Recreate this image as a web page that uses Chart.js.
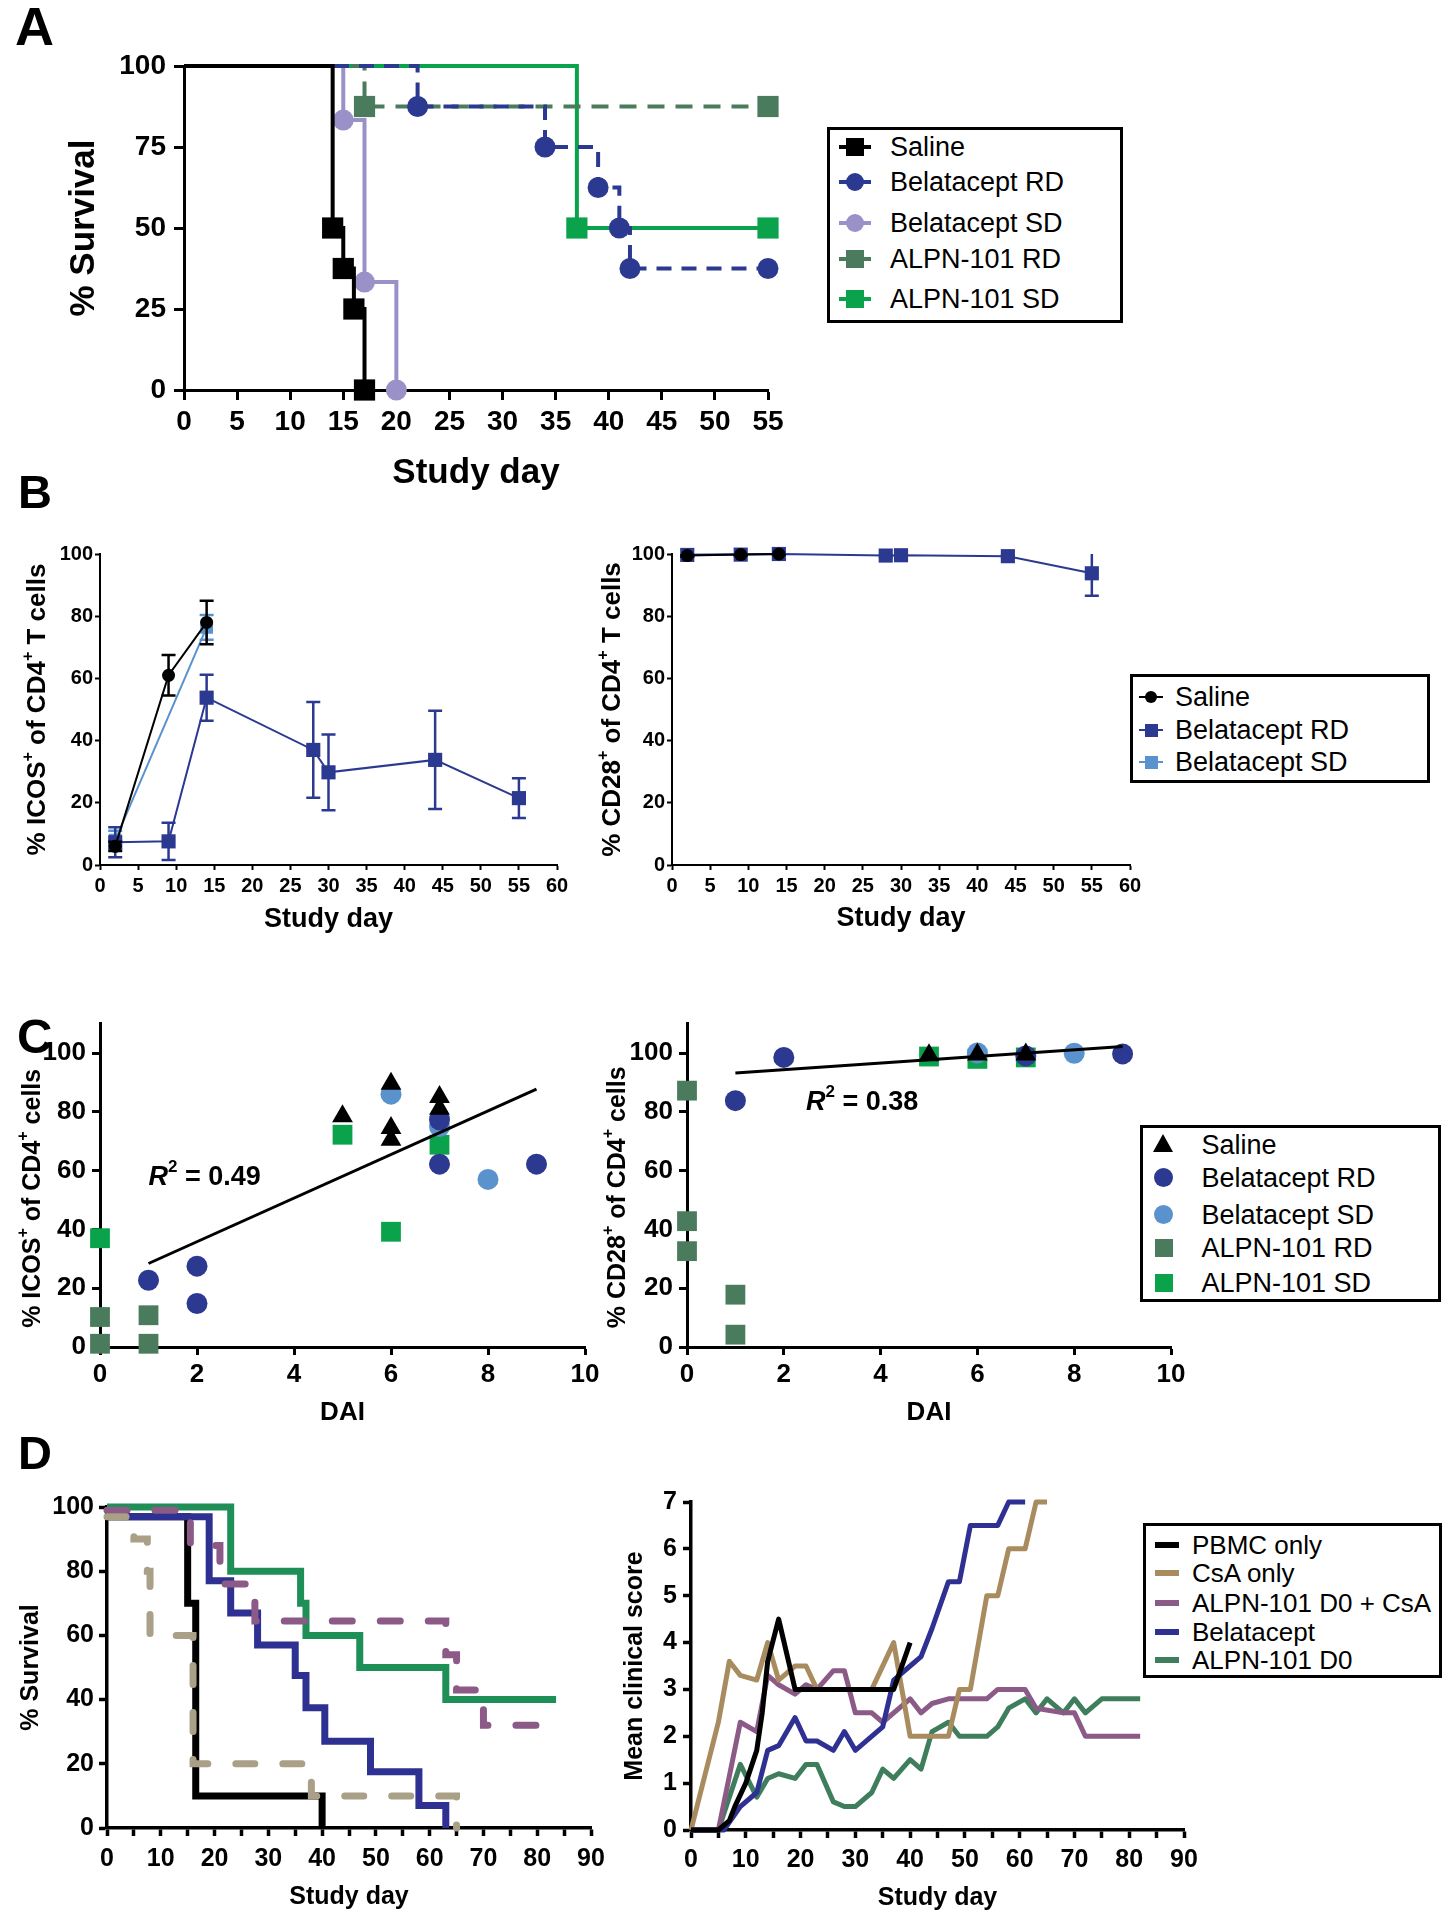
<!DOCTYPE html>
<html><head><meta charset="utf-8">
<script src="https://cdn.jsdelivr.net/npm/chart.js@4.4.1/dist/chart.umd.min.js"></script>
<style>
html,body{margin:0;padding:0;background:#fff}
#page{position:relative;width:1451px;height:1920px;overflow:hidden;background:#fff;font-family:'Liberation Sans',Arial,Helvetica,sans-serif;color:#000}
canvas{position:absolute}
.letter{position:absolute;font-weight:bold;line-height:1;z-index:6}
.lg{position:absolute;box-sizing:border-box;border:3px solid #000;background:#fff;z-index:5}
.tx{position:absolute;transform:translateY(-50%);line-height:1;white-space:nowrap}
.mk{position:absolute;box-sizing:border-box}
</style></head>
<body><div id="page">
<div class="letter" style="left:15px;top:-1px;font-size:54px">A</div>
<div class="letter" style="left:18px;top:468px;font-size:47px">B</div>
<div class="letter" style="left:17px;top:1012px;font-size:49px">C</div>
<div class="letter" style="left:18px;top:1429px;font-size:47px">D</div>
</div>
<script>
const FF = "'Liberation Sans', Arial, Helvetica, sans-serif";
Chart.defaults.font.family = FF;
Chart.defaults.color = '#000';

// ---------------- DATA ----------------
// Panel A: Kaplan-Meier survival
const seriesA = ['Saline', 'Belatacept RD', 'Belatacept SD', 'ALPN-101 RD', 'ALPN-101 SD'];
const aDaysSaline = [0, 14, 15, 16, 17];
const aSurvSaline = [100, 50, 37.5, 25, 0];
const aDaysBelRD = [0, 22, 34, 39, 41, 42, 55];
const aSurvBelRD = [100, 87.5, 75, 62.5, 50, 37.5, 37.5];
const aDaysBelSD = [0, 15, 17, 20];
const aSurvBelSD = [100, 83.3, 33.3, 0];
const aDaysAlpRD = [0, 17, 55];
const aSurvAlpRD = [100, 87.5, 87.5];
const aDaysAlpSD = [0, 37, 55];
const aSurvAlpSD = [100, 50, 50];
const aXTicks = [0, 5, 10, 15, 20, 25, 30, 35, 40, 45, 50, 55];
const aYTicks = [0, 25, 50, 75, 100];

// Panel B: % ICOS+ and % CD28+ over time (mean, error)
const seriesB = ['Saline', 'Belatacept RD', 'Belatacept SD'];
const bDaysSaline = [2, 9, 14];
const bDaysBelRD = [2, 9, 14, 28, 30, 44, 55];
const bDaysBelSD = [2, 14];
const icosSaline = [6, 61, 78];
const icosSalineErr = [1.5, 6.5, 7];
const icosBelRD = [7.3, 7.6, 53.8, 37, 29.8, 33.8, 21.5];
const icosBelRDErr = [4.8, 6, 7.4, 15.4, 12.2, 15.8, 6.4];
const icosBelSD = [8, 76.4];
const icosBelSDErr = [3, 4];
const cd28Saline = [99.5, 99.8, 100];
const cd28SalineErr = [0.4, 0.3, 0.2];
const cd28BelRD = [99.7, 99.8, 100, 99.5, 99.6, 99.3, 93.8];
const cd28BelRDErr = [0.4, 0.3, 0.2, 0.4, 0.4, 0.5, 7.2];
const cd28BelSD = [99.8, 100];
const cd28BelSDErr = [0.3, 0.2];
const bXTicks = [0, 5, 10, 15, 20, 25, 30, 35, 40, 45, 50, 55, 60];
const bYTicks = [0, 20, 40, 60, 80, 100];

// Panel C: correlation with DAI
const cIcosSalineX = [5, 6, 6, 6, 7, 7];
const cIcosSalineY = [78.5, 89.5, 74.5, 70.5, 85, 81];
const cIcosBelRDX = [1, 2, 2, 7, 7, 9];
const cIcosBelRDY = [22.7, 27.5, 14.8, 77.3, 62.2, 62.2];
const cIcosBelSDX = [6, 7, 8];
const cIcosBelSDY = [86, 75, 57];
const cIcosAlpRDX = [0, 0, 1, 1];
const cIcosAlpRDY = [10.2, 1.1, 10.8, 1.1];
const cIcosAlpSDX = [0, 5, 6, 7];
const cIcosAlpSDY = [37, 72.2, 39.2, 68.8];
const cIcosFitX = [1, 9];
const cIcosFitY = [28.4, 87.7];
const cCd28SalineX = [5, 6, 7];
const cCd28SalineY = [99.2, 99.5, 99.5];
const cCd28BelRDX = [1, 2, 7, 9];
const cCd28BelRDY = [83.8, 98.5, 99, 99.7];
const cCd28BelSDX = [6, 8];
const cCd28BelSDY = [100, 99.9];
const cCd28AlpRDX = [0, 0, 0, 1, 1];
const cCd28AlpRDY = [87.2, 42.8, 32.6, 17.8, 4.2];
const cCd28AlpSDX = [5, 6, 7];
const cCd28AlpSDY = [98.8, 98, 98.5];
const cCd28FitX = [1, 9];
const cCd28FitY = [93.2, 102.2];
const cXTicks = [0, 2, 4, 6, 8, 10];
const cYTicks = [0, 20, 40, 60, 80, 100];

// Panel D: survival and mean clinical score
const seriesD = ['PBMC only', 'CsA only', 'ALPN-101 D0 + CsA', 'Belatacept', 'ALPN-101 D0'];
const dsPbmcX = [0, 15, 16.5, 40];
const dsPbmcY = [97, 70, 10, 0];
const dsCsaX = [0, 5, 7.5, 8, 16, 38, 65];
const dsCsaY = [97, 90, 80, 60, 20, 10, 0];
const dsMauveX = [0, 15.5, 21, 27.5, 63, 65, 70, 83.5];
const dsMauveY = [99, 88, 76, 64.5, 54, 43, 32, 32];
const dsBelaX = [0, 19, 23, 28, 35, 37, 40.5, 49, 58, 63];
const dsBelaY = [97, 77, 67, 57, 47.5, 37.5, 27, 17.5, 7, 0];
const dsGreenX = [0, 23, 36, 37, 47, 63, 83.5];
const dsGreenY = [100, 80, 70, 60, 50, 40, 40];
const dcPbmcX = [0, 5, 7, 8, 10, 12, 13, 14, 16, 19, 37, 40];
const dcPbmcY = [0, 0, 0.2, 0.5, 1.0, 1.7, 2.5, 3.6, 4.5, 3, 3, 4];
const dcCsaX = [0, 5, 7, 9, 12, 14, 16, 19, 21, 23, 33, 37, 40, 47, 49, 51, 54, 56, 58, 61, 63, 65];
const dcCsaY = [0, 2.3, 3.6, 3.3, 3.2, 4, 3.2, 3.5, 3.5, 3, 3, 4, 2, 2, 3, 3, 5, 5, 6, 6, 7, 7];
const dcMauveX = [0, 5, 9, 12, 14, 16, 19, 21, 23, 26, 28, 30, 33, 35, 40, 42, 44, 47, 54, 56, 61, 63, 68, 70, 72, 82];
const dcMauveY = [0, 0, 2.3, 2.1, 3.3, 3.1, 2.9, 3.1, 3, 3.4, 3.4, 2.5, 2.5, 2.3, 2.8, 2.5, 2.7, 2.8, 2.8, 3, 3, 2.6, 2.5, 2.5, 2, 2];
const dcBelaX = [0, 6, 9, 12, 14, 16, 19, 21, 23, 26, 28, 30, 35, 37, 40, 42, 44, 47, 49, 51, 56, 58, 61];
const dcBelaY = [0, 0, 0.5, 0.8, 1.7, 1.8, 2.4, 1.9, 1.9, 1.7, 2.1, 1.7, 2.2, 3.2, 3.5, 3.7, 4.3, 5.3, 5.3, 6.5, 6.5, 7, 7];
const dcGreenX = [0, 5, 9, 12, 14, 16, 19, 21, 23, 26, 28, 30, 33, 35, 37, 40, 42, 44, 47, 49, 54, 56, 58, 61, 63, 65, 68, 70, 72, 75, 82];
const dcGreenY = [0, 0, 1.4, 0.7, 1.1, 1.2, 1.1, 1.4, 1.4, 0.6, 0.5, 0.5, 0.8, 1.3, 1.1, 1.5, 1.3, 2.1, 2.3, 2, 2, 2.2, 2.6, 2.8, 2.5, 2.8, 2.5, 2.8, 2.5, 2.8, 2.8];
const dXTicks = [0, 5, 10, 15, 20, 25, 30, 35, 40, 45, 50, 55, 60, 65, 70, 75, 80, 85, 90];
const dXLabels = ['0', '', '10', '', '20', '', '30', '', '40', '', '50', '', '60', '', '70', '', '80', '', '90'];
const dLYTicks = [0, 20, 40, 60, 80, 100];
const dRYTicks = [0, 1, 2, 3, 4, 5, 6, 7];

// ---------------- STYLE ----------------
const NAVY = '#2b3990', LAV = '#9b91c9', DKG = '#4a7b5c', GRN = '#0ba24c', LBLUE = '#5a92cd';
const D_TAN_L = '#aaa087', D_TAN_R = '#a88c5f', D_MAUVE = '#8c5a86', D_BLUE = '#2e3192', D_GRN_L = '#1f8f58', D_GRN_R = '#3f7e5c';
const page = document.getElementById('page');

function pts(xs, ys) { return xs.map((x, i) => ({ x: x, y: ys[i] })); }

const errorBarPlugin = {
  id: 'errbars',
  beforeDatasetDraw(chart, args) {
    const ds = chart.data.datasets[args.index];
    if (!ds.errors) return;
    const ctx = chart.ctx, ys = chart.scales.y, a = chart.chartArea;
    ctx.save();
    ctx.beginPath();
    ctx.rect(a.left - 30, a.top, a.right - a.left + 60, a.bottom - a.top + 30);
    ctx.clip();
    ctx.strokeStyle = ds.borderColor;
    ctx.lineWidth = ds.errW || 2.5;
    const cap = ds.errCap || 7;
    args.meta.data.forEach((pt, i) => {
      const e = ds.errors[i];
      if (!e) return;
      const v = ds.data[i].y;
      const yt = ys.getPixelForValue(v + e), yb = ys.getPixelForValue(v - e);
      ctx.beginPath();
      ctx.moveTo(pt.x, yt); ctx.lineTo(pt.x, yb);
      ctx.moveTo(pt.x - cap, yt); ctx.lineTo(pt.x + cap, yt);
      ctx.moveTo(pt.x - cap, yb); ctx.lineTo(pt.x + cap, yb);
      ctx.stroke();
    });
    ctx.restore();
  }
};

function drawRich(ctx, segs, x, y, rot, size, align) {
  ctx.save();
  ctx.translate(x, y);
  ctx.rotate(rot);
  ctx.fillStyle = '#000';
  ctx.textBaseline = 'middle';
  ctx.textAlign = 'left';
  const parts = segs.map(s => {
    const fs = s.sup ? Math.round(size * 0.62) : size;
    const font = (s.it ? 'italic ' : '') + 'bold ' + fs + 'px ' + FF;
    ctx.font = font;
    return { s: s, font: font, w: ctx.measureText(s.t).width };
  });
  const total = parts.reduce((acc, p) => acc + p.w, 0);
  let cx = align === 'left' ? 0 : -total / 2;
  parts.forEach(p => {
    ctx.font = p.font;
    ctx.fillText(p.s.t, cx, p.s.sup ? -size * 0.36 : 0);
    cx += p.w;
  });
  ctx.restore();
}

function textPlugin(items) {
  return {
    id: 'richtext',
    afterDraw(chart) {
      const ctx = chart.ctx, a = chart.chartArea;
      items.forEach(it => {
        let x, y, rot = 0, align = 'center';
        if (it.kind === 'x') { x = (a.left + a.right) / 2; y = a.bottom + it.offset; }
        else if (it.kind === 'y') { x = a.left + it.offset; y = (a.top + a.bottom) / 2 + (it.shift || 0); rot = -Math.PI / 2; }
        else { x = chart.scales.x.getPixelForValue(it.x); y = chart.scales.y.getPixelForValue(it.y); align = 'left'; }
        drawRich(ctx, it.segs, x, y, rot, it.size, align);
      });
    }
  };
}

function axis(o, dir, size) {
  return {
    type: 'linear', position: dir === 'x' ? 'bottom' : 'left',
    min: o.min, max: o.max,
    afterFit(s) { if (dir === 'x') s.height = size; else s.width = size; },
    afterBuildTicks(s) { s.ticks = o.ticks.map(v => ({ value: v })); },
    ticks: {
      autoSkip: false, maxRotation: 0, minRotation: 0, color: '#000', padding: o.pad,
      font: { family: FF, size: o.fs, weight: 'bold' },
      callback: (v, i) => (o.labels ? o.labels[i] : String(v))
    },
    grid: { display: true, drawOnChartArea: false, drawTicks: true, tickLength: o.tl, tickWidth: o.lw, tickColor: '#000' },
    border: { display: true, color: '#000', width: o.lw }
  };
}

function makeChart(rect, area, cfg) {
  const cv = document.createElement('canvas');
  cv.width = rect.w; cv.height = rect.h;
  cv.style.left = rect.x + 'px'; cv.style.top = rect.y + 'px';
  cv.style.width = rect.w + 'px'; cv.style.height = rect.h + 'px';
  page.appendChild(cv);
  const a = { left: area.left - rect.x, top: area.top - rect.y, right: area.right - rect.x, bottom: area.bottom - rect.y };
  return new Chart(cv, {
    type: cfg.type || 'line',
    data: { datasets: cfg.datasets },
    options: {
      responsive: false, animation: false, devicePixelRatio: 1, events: [],
      layout: { padding: { left: 0, top: a.top, right: rect.w - a.right, bottom: 0 } },
      plugins: { legend: { display: false }, tooltip: { enabled: false } },
      scales: { x: axis(cfg.x, 'x', rect.h - a.bottom), y: axis(cfg.y, 'y', a.left) }
    },
    plugins: [errorBarPlugin, textPlugin(cfg.texts || [])]
  });
}

function makeLegend(box, names, styles, rowsY, o) {
  const d = document.createElement('div');
  d.className = 'lg';
  d.style.left = box.x + 'px'; d.style.top = box.y + 'px';
  d.style.width = box.w + 'px'; d.style.height = box.h + 'px';
  d.style.borderWidth = o.bw + 'px';
  const bw = o.bw;
  names.forEach((n, i) => {
    const st = styles[i];
    const cy = rowsY[i] - box.y - bw;
    const mx = o.mx - box.x - bw;
    if (st.line) {
      const l = document.createElement('div');
      l.className = 'mk';
      l.style.left = (mx - o.lineLen / 2) + 'px';
      l.style.top = (cy - o.lineW / 2) + 'px';
      l.style.width = o.lineLen + 'px';
      l.style.height = o.lineW + 'px';
      l.style.background = st.c;
      d.appendChild(l);
    }
    if (st.m) {
      const m = document.createElement('div');
      m.className = 'mk';
      const s = st.s;
      if (st.m === 'tri') {
        m.style.width = '0'; m.style.height = '0';
        m.style.borderLeft = (s / 2) + 'px solid transparent';
        m.style.borderRight = (s / 2) + 'px solid transparent';
        m.style.borderBottom = (s * 0.9) + 'px solid ' + st.c;
        m.style.left = (mx - s / 2) + 'px';
        m.style.top = (cy - s * 0.5) + 'px';
      } else {
        m.style.width = s + 'px'; m.style.height = s + 'px';
        m.style.background = st.c;
        if (st.m === 'circle') m.style.borderRadius = '50%';
        m.style.left = (mx - s / 2) + 'px';
        m.style.top = (cy - s / 2) + 'px';
      }
      d.appendChild(m);
    }
    const t = document.createElement('div');
    t.className = 'tx';
    t.textContent = n;
    t.style.left = (o.tx - box.x - bw) + 'px';
    t.style.top = cy + 'px';
    t.style.fontSize = o.fs + 'px';
    d.appendChild(t);
  });
  page.appendChild(d);
}

// ---------------- PANEL A ----------------
function survDS(label, xs, ys, color, dash, shape, r) {
  return {
    label: label, data: pts(xs, ys), borderColor: color, backgroundColor: color, borderWidth: 4,
    borderDash: dash, stepped: true, tension: 0, clip: false,
    pointStyle: shape, pointRadius: xs.map((_, i) => (i === 0 ? 0 : r)),
    pointBackgroundColor: color, pointBorderColor: color, pointBorderWidth: 0
  };
}
makeChart({ x: 0, y: 0, w: 800, h: 500 }, { left: 184, top: 66, right: 768, bottom: 390 }, {
  datasets: [
    survDS(seriesA[0], aDaysSaline, aSurvSaline, '#000', [], 'rect', 15),
    survDS(seriesA[1], aDaysBelRD, aSurvBelRD, NAVY, [15, 10], 'circle', 10.5),
    survDS(seriesA[2], aDaysBelSD, aSurvBelSD, LAV, [], 'circle', 10.5),
    survDS(seriesA[3], aDaysAlpRD, aSurvAlpRD, DKG, [17, 11], 'rect', 15),
    survDS(seriesA[4], aDaysAlpSD, aSurvAlpSD, GRN, [], 'rect', 15)
  ],
  x: { min: 0, max: 55, ticks: aXTicks, fs: 28, pad: 5, tl: 10, lw: 3 },
  y: { min: 0, max: 100, ticks: aYTicks, fs: 28, pad: 8, tl: 10, lw: 3 },
  texts: [
    { kind: 'x', offset: 83, size: 35, segs: [{ t: 'Study day' }] },
    { kind: 'y', offset: -100, size: 35, segs: [{ t: '% Survival' }] }
  ]
});
makeLegend({ x: 827, y: 127, w: 296, h: 196 }, seriesA, [
  { c: '#000', m: 'rect', s: 18, line: true },
  { c: NAVY, m: 'circle', s: 18, line: true },
  { c: LAV, m: 'circle', s: 18, line: true },
  { c: DKG, m: 'rect', s: 18, line: true },
  { c: GRN, m: 'rect', s: 18, line: true }
], [147, 182, 223, 259, 299], { bw: 3, mx: 855, lineLen: 32, lineW: 4, tx: 890, fs: 27 });

// ---------------- PANEL B ----------------
function bDS(label, xs, ys, errs, color, shape, r) {
  return {
    label: label, data: pts(xs, ys), errors: errs, errW: 2.5, errCap: 7,
    borderColor: color, backgroundColor: color, borderWidth: 2, tension: 0, clip: false,
    pointStyle: shape, pointRadius: r, pointBackgroundColor: color, pointBorderColor: color, pointBorderWidth: 0
  };
}
makeChart({ x: 0, y: 500, w: 600, h: 460 }, { left: 100, top: 554, right: 557, bottom: 865 }, {
  datasets: [
    bDS(seriesB[0], bDaysSaline, icosSaline, icosSalineErr, '#000', 'circle', 6.5),
    bDS(seriesB[1], bDaysBelRD, icosBelRD, icosBelRDErr, NAVY, 'rect', 10),
    bDS(seriesB[2], bDaysBelSD, icosBelSD, icosBelSDErr, LBLUE, 'rect', 9)
  ],
  x: { min: 0, max: 60, ticks: bXTicks, fs: 20, pad: 4, tl: 5, lw: 2 },
  y: { min: 0, max: 100, ticks: bYTicks, fs: 20, pad: 2, tl: 5, lw: 2 },
  texts: [
    { kind: 'x', offset: 55, size: 27, segs: [{ t: 'Study day' }] },
    { kind: 'y', offset: -62, size: 26, segs: [{ t: '% ICOS' }, { t: '+', sup: true }, { t: ' of CD4' }, { t: '+', sup: true }, { t: ' T cells' }] }
  ]
});
makeChart({ x: 590, y: 500, w: 560, h: 460 }, { left: 672, top: 554, right: 1130, bottom: 865 }, {
  datasets: [
    bDS(seriesB[0], bDaysSaline, cd28Saline, cd28SalineErr, '#000', 'circle', 6.5),
    bDS(seriesB[1], bDaysBelRD, cd28BelRD, cd28BelRDErr, NAVY, 'rect', 10),
    bDS(seriesB[2], bDaysBelSD, cd28BelSD, cd28BelSDErr, LBLUE, 'rect', 9)
  ],
  x: { min: 0, max: 60, ticks: bXTicks, fs: 20, pad: 4, tl: 5, lw: 2 },
  y: { min: 0, max: 100, ticks: bYTicks, fs: 20, pad: 2, tl: 5, lw: 2 },
  texts: [
    { kind: 'x', offset: 54, size: 27, segs: [{ t: 'Study day' }] },
    { kind: 'y', offset: -59, size: 26, segs: [{ t: '% CD28' }, { t: '+', sup: true }, { t: ' of CD4' }, { t: '+', sup: true }, { t: ' T cells' }] }
  ]
});
makeLegend({ x: 1130, y: 674, w: 300, h: 109 }, seriesB, [
  { c: '#000', m: 'circle', s: 12, line: true },
  { c: NAVY, m: 'rect', s: 13, line: true },
  { c: LBLUE, m: 'rect', s: 13, line: true }
], [697, 730, 762], { bw: 3, mx: 1151, lineLen: 24, lineW: 2, tx: 1175, fs: 27 });

// ---------------- PANEL C ----------------
function scatDS(label, xs, ys, color, shape, r) {
  return {
    label: label, data: pts(xs, ys), showLine: false, clip: false,
    pointStyle: shape, pointRadius: r, pointBackgroundColor: color, pointBorderColor: color, pointBorderWidth: 0,
    backgroundColor: color, borderColor: color
  };
}
function fitDS(xs, ys) {
  return { label: 'fit', data: pts(xs, ys), showLine: true, borderColor: '#000', borderWidth: 3, pointRadius: 0, clip: false };
}
makeChart({ x: 0, y: 980, w: 620, h: 460 }, { left: 100, top: 1023.6, right: 585, bottom: 1347 }, {
  type: 'scatter',
  datasets: [
    fitDS(cIcosFitX, cIcosFitY),
    scatDS(seriesA[0], cIcosSalineX, cIcosSalineY, '#000', 'triangle', 12),
    scatDS(seriesA[1], cIcosBelRDX, cIcosBelRDY, NAVY, 'circle', 10.5),
    scatDS(seriesA[2], cIcosBelSDX, cIcosBelSDY, LBLUE, 'circle', 10.5),
    scatDS(seriesA[3], cIcosAlpRDX, cIcosAlpRDY, DKG, 'rect', 14),
    scatDS(seriesA[4], cIcosAlpSDX, cIcosAlpSDY, GRN, 'rect', 14)
  ],
  x: { min: 0, max: 10, ticks: cXTicks, fs: 26, pad: 4, tl: 8, lw: 3 },
  y: { min: 0, max: 110, ticks: cYTicks, fs: 26, pad: 6, tl: 8, lw: 3 },
  texts: [
    { kind: 'x', offset: 66, size: 26, segs: [{ t: 'DAI' }] },
    { kind: 'y', offset: -67, shift: 13, size: 25, segs: [{ t: '% ICOS' }, { t: '+', sup: true }, { t: ' of CD4' }, { t: '+', sup: true }, { t: ' cells' }] },
    { kind: 'data', x: 1.0, y: 57.8, size: 27, segs: [{ t: 'R', it: true }, { t: '2', sup: true }, { t: ' = 0.49' }] }
  ]
});
makeChart({ x: 600, y: 980, w: 600, h: 460 }, { left: 687, top: 1023.6, right: 1171, bottom: 1347 }, {
  type: 'scatter',
  datasets: [
    fitDS(cCd28FitX, cCd28FitY),
    scatDS(seriesA[0], cCd28SalineX, cCd28SalineY, '#000', 'triangle', 12),
    scatDS(seriesA[1], cCd28BelRDX, cCd28BelRDY, NAVY, 'circle', 10.5),
    scatDS(seriesA[2], cCd28BelSDX, cCd28BelSDY, LBLUE, 'circle', 10.5),
    scatDS(seriesA[3], cCd28AlpRDX, cCd28AlpRDY, DKG, 'rect', 14),
    scatDS(seriesA[4], cCd28AlpSDX, cCd28AlpSDY, GRN, 'rect', 14)
  ],
  x: { min: 0, max: 10, ticks: cXTicks, fs: 26, pad: 4, tl: 8, lw: 3 },
  y: { min: 0, max: 110, ticks: cYTicks, fs: 26, pad: 6, tl: 8, lw: 3 },
  texts: [
    { kind: 'x', offset: 66, size: 26, segs: [{ t: 'DAI' }] },
    { kind: 'y', offset: -69, shift: 12, size: 25, segs: [{ t: '% CD28' }, { t: '+', sup: true }, { t: ' of CD4' }, { t: '+', sup: true }, { t: ' cells' }] },
    { kind: 'data', x: 2.46, y: 83.3, size: 27, segs: [{ t: 'R', it: true }, { t: '2', sup: true }, { t: ' = 0.38' }] }
  ]
});
makeLegend({ x: 1140, y: 1125, w: 301, h: 177 }, seriesA, [
  { c: '#000', m: 'tri', s: 21 },
  { c: NAVY, m: 'circle', s: 19 },
  { c: LBLUE, m: 'circle', s: 19 },
  { c: DKG, m: 'rect', s: 18 },
  { c: GRN, m: 'rect', s: 18 }
], [1145, 1178, 1215, 1248, 1283], { bw: 3.5, mx: 1164, lineLen: 0, lineW: 0, tx: 1202, fs: 27 });

// ---------------- PANEL D ----------------
function dsStep(label, xs, ys, color, dash) {
  return {
    label: label, data: pts(xs, ys), borderColor: color, backgroundColor: color, borderWidth: 7,
    borderDash: dash, borderCapStyle: dash.length ? 'round' : 'butt', stepped: true, tension: 0,
    pointRadius: 0, clip: false
  };
}
makeChart({ x: 0, y: 1440, w: 620, h: 480 }, { left: 107, top: 1507, right: 591, bottom: 1828 }, {
  datasets: [
    dsStep(seriesD[1], dsCsaX, dsCsaY, D_TAN_L, [19, 28]),
    dsStep(seriesD[2], dsMauveX, dsMauveY, D_MAUVE, [20, 28]),
    dsStep(seriesD[3], dsBelaX, dsBelaY, D_BLUE, []),
    dsStep(seriesD[4], dsGreenX, dsGreenY, D_GRN_L, []),
    dsStep(seriesD[0], dsPbmcX, dsPbmcY, '#000', [])
  ],
  x: { min: 0, max: 90, ticks: dXTicks, labels: dXLabels, fs: 25, pad: 8, tl: 8, lw: 3.5 },
  y: { min: 0, max: 100, ticks: dLYTicks, fs: 25, pad: 5, tl: 8, lw: 3.5 },
  texts: [
    { kind: 'x', offset: 69, size: 25, segs: [{ t: 'Study day' }] },
    { kind: 'y', offset: -76, size: 25, segs: [{ t: '% Survival' }] }
  ]
});
function dcLine(label, xs, ys, color) {
  return {
    label: label, data: pts(xs, ys), borderColor: color, backgroundColor: color, borderWidth: 5,
    borderJoinStyle: 'round', tension: 0, pointRadius: 0, clip: false
  };
}
makeChart({ x: 600, y: 1440, w: 620, h: 480 }, { left: 691, top: 1502, right: 1184, bottom: 1830 }, {
  datasets: [
    dcLine(seriesD[0], dcPbmcX, dcPbmcY, '#000'),
    dcLine(seriesD[3], dcBelaX, dcBelaY, D_BLUE),
    dcLine(seriesD[1], dcCsaX, dcCsaY, D_TAN_R),
    dcLine(seriesD[2], dcMauveX, dcMauveY, D_MAUVE),
    dcLine(seriesD[4], dcGreenX, dcGreenY, D_GRN_R)
  ],
  x: { min: 0, max: 90, ticks: dXTicks, labels: dXLabels, fs: 25, pad: 7, tl: 8, lw: 3.5 },
  y: { min: 0, max: 7, ticks: dRYTicks, fs: 25, pad: 6, tl: 8, lw: 3.5 },
  texts: [
    { kind: 'x', offset: 68, size: 25, segs: [{ t: 'Study day' }] },
    { kind: 'y', offset: -56, size: 25, segs: [{ t: 'Mean clinical score' }] }
  ]
});
makeLegend({ x: 1143, y: 1523, w: 299, h: 155 }, seriesD, [
  { c: '#000', line: true },
  { c: D_TAN_R, line: true },
  { c: D_MAUVE, line: true },
  { c: D_BLUE, line: true },
  { c: D_GRN_R, line: true }
], [1545, 1573, 1603, 1632, 1660], { bw: 3, mx: 1167, lineLen: 24, lineW: 6, tx: 1192, fs: 26 });
</script>
</body></html>
